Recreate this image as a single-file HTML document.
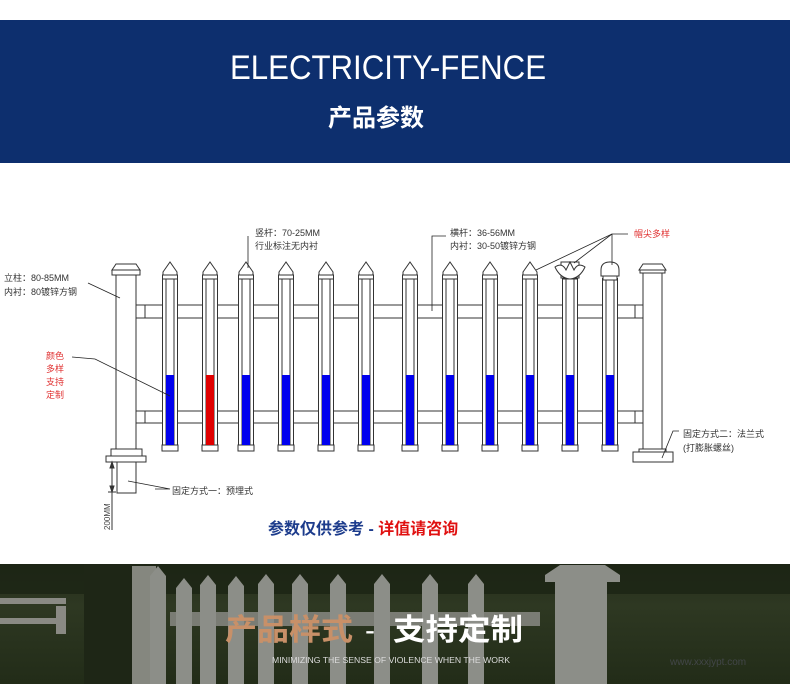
<!DOCTYPE html>
<html><head><meta charset="utf-8"><style>
html,body{margin:0;padding:0;background:#fff;}
body{width:790px;height:684px;overflow:hidden;position:relative;}
svg{display:block;}
</style></head><body>
<svg width="790" height="684" viewBox="0 0 790 684" xmlns="http://www.w3.org/2000/svg" font-family="Liberation Sans, Noto Sans CJK SC, sans-serif">
<defs>
<linearGradient id="bg" x1="0" y1="0" x2="0" y2="1">
<stop offset="0" stop-color="#252d1c"/><stop offset="0.35" stop-color="#2e3822"/><stop offset="1" stop-color="#222c18"/>
</linearGradient>
<g id="pk" stroke="#333" stroke-width="1" fill="#fff">
<polygon points="-7,277 -7,272 0,262 7,272 7,277"/>
<rect x="-7.5" y="275" width="15" height="172"/>
<line x1="-4" y1="279" x2="-4" y2="446"/>
<line x1="4" y1="279" x2="4" y2="446"/>
<line x1="-7.5" y1="279" x2="7.5" y2="279"/>
<rect x="-8" y="445" width="16" height="6"/>
</g>
<g id="pb" stroke="none"><rect x="-4" y="375" width="8" height="70" fill="#0000ee"/></g>
<g id="pr" stroke="none"><rect x="-4" y="375" width="8" height="70" fill="#e00000"/></g>
<g id="ph" fill="#8c8e88"><polygon points="0,10 8,0 16,10 16,130 0,130"/></g>
</defs>
<!-- header -->
<rect x="0" y="20" width="790" height="143" fill="#0d2f6e"/>
<text x="388" y="79" text-anchor="middle" font-size="34" fill="#fff" textLength="316" lengthAdjust="spacingAndGlyphs">ELECTRICITY-FENCE</text>
<text x="376" y="126" text-anchor="middle" font-size="24" font-weight="bold" fill="#fff">产品参数</text>

<!-- rails -->
<g stroke="#333" stroke-width="1" fill="#fff">
<rect x="136" y="305" width="507" height="13"/>
<rect x="136" y="411" width="507" height="12"/>
<line x1="145" y1="305" x2="145" y2="318"/><line x1="145" y1="411" x2="145" y2="423"/>
<line x1="635" y1="305" x2="635" y2="318"/><line x1="635" y1="411" x2="635" y2="423"/>
</g>
<!-- left post -->
<g stroke="#333" stroke-width="1" fill="#fff">
<polygon points="112,270 116,264 136,264 140,270"/>
<rect x="112" y="270" width="28" height="5"/>
<rect x="116" y="275" width="20" height="174"/>
<rect x="111" y="449" width="31" height="7"/>
<rect x="106" y="456" width="40" height="6"/>
<rect x="117" y="462" width="19" height="31"/>
<line x1="112" y1="462" x2="112" y2="530"/>
<polygon points="112,462 110,468 114,468" fill="#333"/>
<polygon points="112,492 110,486 114,486" fill="#333"/>
<line x1="108" y1="492" x2="116" y2="492"/>
</g>
<text transform="translate(110,530) rotate(-90)" font-size="8" fill="#444">200MM</text>
<!-- right post -->
<g stroke="#333" stroke-width="1" fill="#fff">
<polygon points="639,270 643,264 662,264 666,270"/>
<rect x="640" y="270" width="25" height="3"/>
<rect x="643" y="273" width="19" height="179"/>
<rect x="639" y="449" width="27" height="3"/>
<rect x="633" y="452" width="40" height="10"/>
</g>
<!-- pickets -->
<g>
<use href="#pk" x="170"/><use href="#pk" x="210"/><use href="#pk" x="246"/><use href="#pk" x="286"/>
<use href="#pk" x="326"/><use href="#pk" x="366"/><use href="#pk" x="410"/><use href="#pk" x="450"/>
<use href="#pk" x="490"/><use href="#pk" x="530"/><use href="#pk" x="570"/><use href="#pk" x="610"/>
<use href="#pb" x="170"/><use href="#pr" x="210"/><use href="#pb" x="246"/><use href="#pb" x="286"/>
<use href="#pb" x="326"/><use href="#pb" x="366"/><use href="#pb" x="410"/><use href="#pb" x="450"/>
<use href="#pb" x="490"/><use href="#pb" x="530"/><use href="#pb" x="570"/><use href="#pb" x="610"/>
</g>
<!-- special tops -->
<g stroke="#333" stroke-width="1" fill="#fff">
<rect x="561" y="262" width="18" height="16"/>
<path d="M555,267 Q562,262 566,270 L570,262 L574,270 Q578,262 585,267 Q580,278 570,279 Q560,278 555,267 Z"/>
<rect x="601" y="262" width="18" height="16" stroke="none"/>
<path d="M601,276 L601,270 Q601,262 610,262 Q619,262 619,270 L619,276 Z"/>
<rect x="603" y="276" width="14" height="4"/>
</g>
<!-- leaders -->
<g stroke="#222" stroke-width="0.8" fill="none">
<polyline points="88,283 120,298"/>
<polyline points="72,357 95,359 170,396"/>
<polyline points="155,489 170,489 128,481"/>
<polyline points="248,236 248,268"/>
<polyline points="446,236 432,236 432,311"/>
<polyline points="628,234 612,234 536,270"/>
<polyline points="612,234 574,263"/>
<polyline points="612,234 612,265"/>
<polyline points="679,431 673,431 662,458"/>
</g>
<g font-size="9" fill="#333">
<text x="4" y="281">立柱：80-85MM</text>
<text x="4" y="295">内衬：80镀锌方钢</text>
<text x="255" y="236">竖杆：70-25MM</text>
<text x="255" y="249">行业标注无内衬</text>
<text x="450" y="236">横杆：36-56MM</text>
<text x="450" y="249">内衬：30-50镀锌方钢</text>
<text x="172" y="494">固定方式一：预埋式</text>
<text x="683" y="437">固定方式二：法兰式</text>
<text x="683" y="451">(打膨胀螺丝)</text>
</g>
<text x="634" y="237" font-size="9" fill="#e03030">帽尖多样</text>
<g font-size="9" fill="#e03030">
<text x="46" y="359">颜色</text><text x="46" y="372">多样</text><text x="46" y="385">支持</text><text x="46" y="398">定制</text>
</g>
<text x="268" y="534" font-size="16" font-weight="bold" fill="#1d3c8c">参数仅供参考 - <tspan fill="#e01010">详值请咨询</tspan></text>

<!-- photo -->
<rect x="0" y="564" width="790" height="120" fill="url(#bg)"/>
<rect x="0" y="564" width="790" height="30" fill="#1a2212" opacity="0.7"/>
<rect x="0" y="598" width="66" height="6" fill="#8a8a84"/>
<rect x="0" y="618" width="66" height="6" fill="#8a8a84"/>
<rect x="56" y="606" width="10" height="28" fill="#8a8a84"/>
<g fill="#808278">
<rect x="84" y="564" width="60" height="120" fill="#1e2616"/>
<rect x="170" y="612" width="370" height="14" fill="#7a7c74"/>
</g>
<rect x="132" y="566" width="24" height="118" fill="#85877f"/>
<use href="#ph" x="150" y="566"/>
<use href="#ph" x="176" y="578"/>
<use href="#ph" x="200" y="575"/>
<use href="#ph" x="228" y="576"/>
<use href="#ph" x="258" y="574"/>
<use href="#ph" x="292" y="574"/>
<use href="#ph" x="330" y="574"/>
<use href="#ph" x="374" y="574"/>
<use href="#ph" x="422" y="574"/>
<use href="#ph" x="468" y="574"/>
<g fill="#8c8e88">
<rect x="555" y="580" width="52" height="104"/>
<polygon points="545,575 560,565 605,565 620,575 620,582 545,582"/>
</g>
<text x="225" y="640" font-size="30" font-weight="bold" fill="#c89068" textLength="128" lengthAdjust="spacingAndGlyphs">产品样式</text>
<text x="365" y="640" font-size="30" fill="#fff">-</text>
<text x="393" y="640" font-size="30" font-weight="bold" fill="#fff" textLength="130" lengthAdjust="spacingAndGlyphs">支持定制</text>
<text x="391" y="663" font-size="8" fill="#ddd" text-anchor="middle" textLength="238" lengthAdjust="spacingAndGlyphs">MINIMIZING THE SENSE OF VIOLENCE WHEN THE WORK</text>
<text x="670" y="665" font-size="10" fill="#556" opacity="0.6">www.xxxjypt.com</text>
</svg>
</body></html>
